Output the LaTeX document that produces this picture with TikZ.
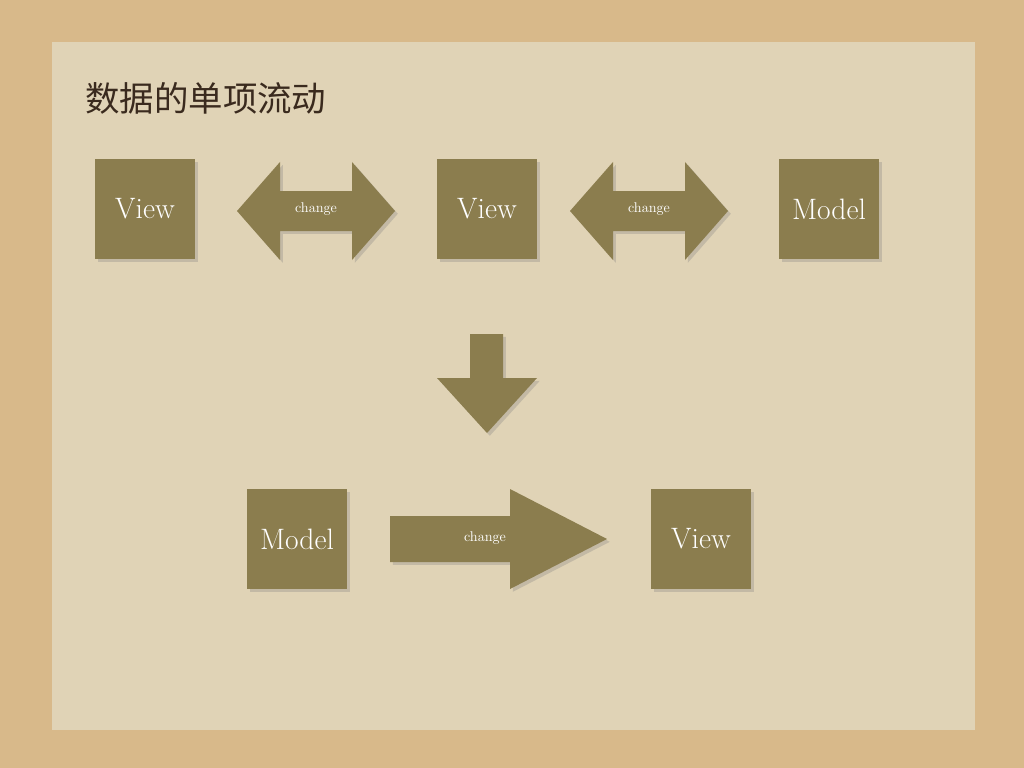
\documentclass[tikz,border=0pt]{standalone}
\usepackage{fontspec}
\newfontfamily\cjk{Noto Sans CJK SC}
\usetikzlibrary{shadows}
\definecolor{desk}{HTML}{D8B98A}
\definecolor{paper}{HTML}{E0D3B6}
\definecolor{olive}{HTML}{8B7D4E}
\definecolor{ink}{HTML}{3A2A1E}
\tikzset{
    box/.style = {
        fill=olive,
        minimum width=2.5cm,
        minimum height=2.5cm,
        text=white,
        font=\fontsize{21}{23}\selectfont,
        drop shadow={opacity=0.3, shadow xshift=2pt, shadow yshift=-2pt}
    },
    arrowshape/.style = {
        fill=olive,
        drop shadow={opacity=0.3, shadow xshift=2pt, shadow yshift=-2pt}
    },
    tag/.style = {
        text=white,
        font=\fontsize{10}{12}\selectfont
    }
}
\begin{document}
\begin{tikzpicture}[x=0.025cm,y=-0.025cm]
    \useasboundingbox (0,0) rectangle (1024,768);
    \fill[desk] (0,0) rectangle (1024,768);
    \fill[paper] (52,42) rectangle (975,730);
    \node[anchor=west, inner sep=0pt, text=ink, font=\cjk\fontsize{24.5}{26}\selectfont] (title) at (85,98) {数据的单项流动};

    % top row
    \node[box] (view1) at (145,209) {View};
    \node[box] (view2) at (487,209) {View};
    \node[box] (model1) at (829,209) {Model};

    \fill[arrowshape] (237,211) -- (280,162) -- (280,191) -- (352,191) -- (352,162) -- (395,211)
        -- (352,260) -- (352,231) -- (280,231) -- (280,260) -- cycle;
    \node[tag] (change1) at (316,209) {change};
    \fill[arrowshape] (570,211) -- (613,162) -- (613,191) -- (685,191) -- (685,162) -- (728,211)
        -- (685,260) -- (685,231) -- (613,231) -- (613,260) -- cycle;
    \node[tag] (change2) at (649,209) {change};

    % down
    \fill[arrowshape] (470,334) -- (503,334) -- (503,378) -- (537,378) -- (487,433)
        -- (437,378) -- (470,378) -- cycle;

    % bottom row
    \node[box] (model2) at (297,539) {Model};
    \node[box] (view3) at (701,539) {View};
    \fill[arrowshape] (390,516) -- (510,516) -- (510,489) -- (607,539) -- (510,589)
        -- (510,562) -- (390,562) -- cycle;
    \node[tag] (change3) at (485,538) {change};
\end{tikzpicture}
\end{document}
